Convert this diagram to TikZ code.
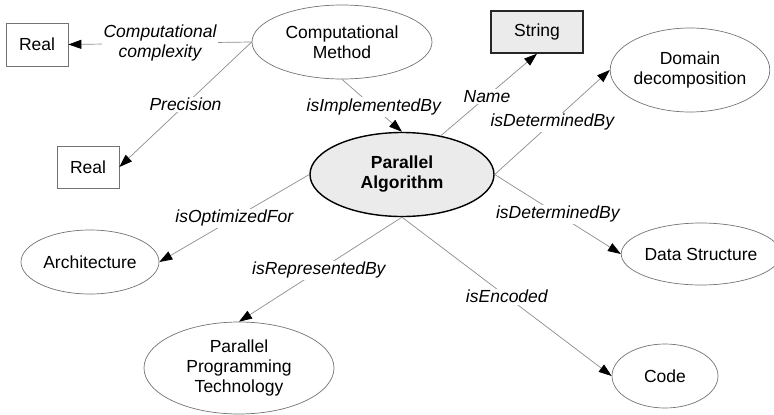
\documentclass[tikz,border=0pt]{standalone}
\usepackage{fontspec}
\setmainfont{Liberation Sans}
\usetikzlibrary{shapes.geometric,arrows.meta}

\definecolor{edgegray}{gray}{0.55}
\definecolor{rimgray}{gray}{0.45}
\definecolor{softfill}{gray}{0.92}

\tikzset{
  txt/.style={font=\fontsize{17.5pt}{20pt}\selectfont, align=center},
  oval/.style={txt, ellipse, draw=rimgray, line width=0.7pt, inner sep=0pt},
  box/.style={txt, rectangle, draw=rimgray, line width=0.7pt, inner sep=0pt},
  rel/.style={draw=edgegray, line width=0.7pt,
    -{Triangle[length=13pt,width=9pt,color=black]}},
  tag/.style={font=\fontsize{17.5pt}{20pt}\selectfont\itshape, align=center,
    fill=white, inner sep=1.5pt}
}

\begin{document}
\begin{tikzpicture}[x=1pt,y=-1pt]
  \useasboundingbox (0,0) rectangle (774,415);

  % concepts
  \node[oval, minimum width=184pt, minimum height=84pt, fill=softfill,
        draw=black, line width=1.4pt, font=\fontsize{17.5pt}{20pt}\selectfont\bfseries]
        (pa) at (402,174.5) {Parallel\\Algorithm};
  \node[oval, minimum width=180pt, minimum height=74pt] (cm) at (342,42) {Computational\\Method};
  \node[oval, minimum width=148pt, minimum height=84pt] (dd) at (690,70) {Domain\\decomposition};
  \node[oval, minimum width=144pt, minimum height=62pt] (ds) at (701,254) {Data Structure};
  \node[oval, minimum width=106pt, minimum height=64pt] (code) at (665,376) {Code};
  \node[oval, minimum width=138pt, minimum height=64pt] (arch) at (90,262) {Architecture};
  \node[oval, minimum width=190pt, minimum height=92pt] (ppt) at (239,368) {Parallel\\Programming\\Technology};

  % datatypes
  \node[box, minimum width=62pt, minimum height=43pt] (r1) at (37,44.5) {Real};
  \node[box, minimum width=62pt, minimum height=42pt] (r2) at (88,167) {Real};
  \node[box, minimum width=92pt, minimum height=42pt, fill=softfill,
        draw=black!85, line width=1.4pt] (str) at (537,32) {String};

  % relations
  \draw[rel] (cm.west) -- node[tag, pos=0.5] {Computational\\complexity} (r1.east);
  \draw[rel] (cm.west) -- node[tag, pos=0.5] {Precision} (r2.east);
  \draw[rel] (cm.south) -- node[tag, pos=0.53] {isImplementedBy} (pa.north);
  \draw[rel] (pa.45) -- node[tag, pos=0.48] {Name} (str.south);
  \draw[rel] (pa.east) -- node[tag, pos=0.5] {isDeterminedBy} (dd.west);
  \draw[rel] (pa.east) -- node[tag, pos=0.5] {isDeterminedBy} (ds.west);
  \draw[rel] (pa.south) -- node[tag, pos=0.5] {isEncoded} (code.west);
  \draw[rel] (pa.south) -- node[tag, pos=0.51] {isRepresentedBy} (ppt.north);
  \draw[rel] (pa.west) -- node[tag, pos=0.5] {isOptimizedFor} (arch.east);
\end{tikzpicture}
\end{document}
